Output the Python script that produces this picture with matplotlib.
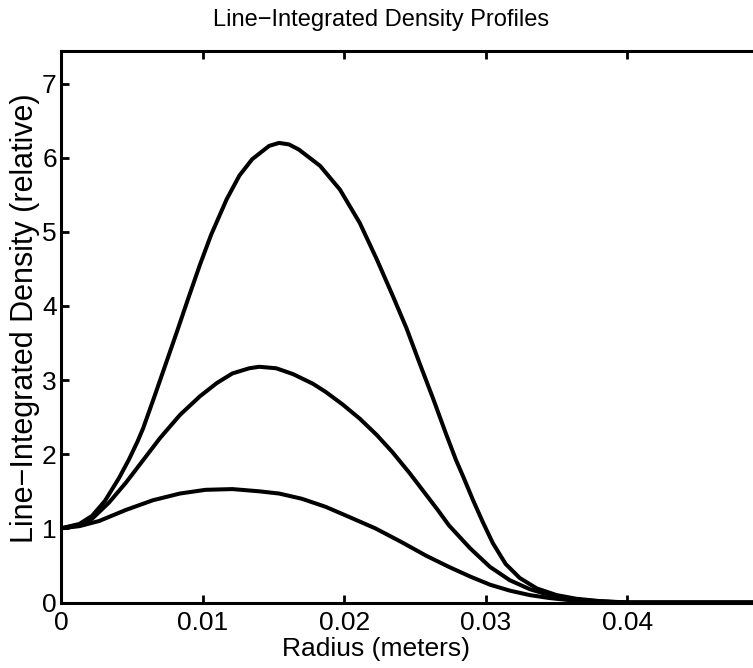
import numpy as np
import matplotlib.pyplot as plt

plt.rcParams['font.family'] = ['Liberation Sans', 'DejaVu Sans']

# radius (m) and relative line-integrated density
r_high = [0.0, 0.0013, 0.0022, 0.0031, 0.0041, 0.0048, 0.0054, 0.0058, 0.0066,
          0.0074, 0.0082, 0.0090, 0.0098, 0.0106, 0.0117, 0.0126, 0.0135, 0.0147,
          0.0154, 0.0161, 0.0168, 0.0183, 0.0197, 0.0211, 0.0223, 0.0234, 0.0244,
          0.0253, 0.0263, 0.0272, 0.0279, 0.0284, 0.0291, 0.0298, 0.0305, 0.0314,
          0.0324, 0.0336, 0.0350, 0.0364, 0.0380, 0.0400, 0.0500]
d_high = [1.00, 1.06, 1.17, 1.37, 1.68, 1.93, 2.17, 2.35, 2.78,
          3.22, 3.66, 4.11, 4.55, 4.96, 5.44, 5.76, 5.98, 6.16,
          6.20, 6.18, 6.11, 5.89, 5.57, 5.12, 4.63, 4.15, 3.70,
          3.24, 2.74, 2.27, 1.92, 1.70, 1.38, 1.08, 0.80, 0.52,
          0.33, 0.19, 0.10, 0.05, 0.02, 0.0, 0.0]

r_mid = [0.0, 0.0013, 0.0022, 0.0034, 0.0046, 0.0058, 0.0070, 0.0084, 0.0098,
         0.0110, 0.0121, 0.0133, 0.0140, 0.0152, 0.0164, 0.0178, 0.0187, 0.0199,
         0.0211, 0.0223, 0.0234, 0.0246, 0.0258, 0.0266, 0.0274, 0.0289, 0.0303,
         0.0317, 0.0331, 0.0345, 0.0359, 0.0380, 0.0400, 0.0500]
d_mid = [1.00, 1.05, 1.13, 1.35, 1.62, 1.92, 2.22, 2.53, 2.78,
         2.96, 3.09, 3.16, 3.18, 3.16, 3.08, 2.95, 2.84, 2.67,
         2.48, 2.26, 2.03, 1.75, 1.45, 1.25, 1.04, 0.73, 0.48,
         0.30, 0.18, 0.10, 0.05, 0.015, 0.0, 0.0]

r_low = [0.0, 0.0013, 0.0027, 0.0046, 0.0065, 0.0084, 0.0102, 0.0121, 0.0140,
         0.0154, 0.0170, 0.0187, 0.0204, 0.0222, 0.0240, 0.0258, 0.0274, 0.0289,
         0.0303, 0.0317, 0.0331, 0.0345, 0.0360, 0.0380, 0.0400, 0.0500]
d_low = [1.00, 1.03, 1.10, 1.25, 1.38, 1.47, 1.52, 1.53, 1.50,
         1.47, 1.40, 1.29, 1.15, 1.00, 0.82, 0.63, 0.48, 0.35,
         0.24, 0.16, 0.10, 0.06, 0.03, 0.01, 0.0, 0.0]

xticks = [0, 0.01, 0.02, 0.03, 0.04]
xticklabels = ['0', '0.01', '0.02', '0.03', '0.04']
yticks = [0, 1, 2, 3, 4, 5, 6, 7]

fig = plt.figure(figsize=(7.53, 6.68), dpi=100)
# right spine (r = 0.05) lies just past the right edge of the picture
ax = fig.add_axes([61 / 753, 65.5 / 668, 708 / 753, 551.5 / 668])

for r, d in [(r_high, d_high), (r_mid, d_mid), (r_low, d_low)]:
    ax.plot(r, d, color='black', lw=2.9, solid_capstyle='round', solid_joinstyle='round')

ax.set_xlim(0, 0.05)
ax.set_ylim(0, 7.44)
ax.set_xticks(xticks)
ax.set_xticklabels(xticklabels)
ax.set_yticks(yticks)
ax.tick_params(direction='in', length=6, width=2, labelsize=19, top=True, right=True)
ax.tick_params(axis='x', pad=6)
ax.tick_params(axis='y', pad=3)
for s in ax.spines.values():
    s.set_linewidth(2.2)

ax.set_xlabel('Radius (meters)', fontsize=19)
ax.xaxis.set_label_coords((376 - 61) / 708, -0.062)
ax.set_ylabel('Line\u2212Integrated Density (relative)', fontsize=22)
ax.yaxis.set_label_coords(-0.029, 0.516)

fig.text(381 / 753, 1 - 20 / 668, 'Line\u2212Integrated Density Profiles', fontsize=17,
         ha='center', va='center')

fig.savefig('out.png', dpi=100)
